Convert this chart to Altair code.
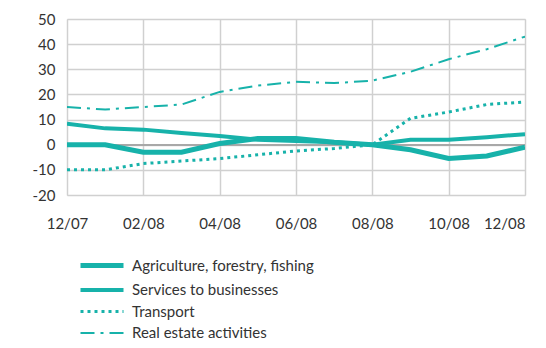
import altair as alt
import pandas as pd

months = list(range(13))
tick_values = [0, 2, 4, 6, 8, 10, 12]
tick_labels = ["12/07", "02/08", "04/08", "06/08", "08/08", "10/08", "12/08"]
y_ticks = [-20, -10, 0, 10, 20, 30, 40, 50]

series_names = ["Agriculture, forestry, fishing", "Services to businesses",
                "Transport", "Real estate activities"]
agriculture = [0, 0, -3, -3, 0.5, 2.5, 2.5, 1, 0, -2, -5.5, -4.5, -1]
services = [8.3, 6.5, 6, 4.7, 3.5, 2, 1.5, 1, 0, 2, 2, 3, 4.2]
transport = [-10, -10, -7.5, -6.5, -5.5, -4, -2.5, -1.5, 0, 10.5, 13, 16, 17]
real_estate = [15, 14, 15, 16, 21, 23.5, 25, 24.5, 25.5, 29, 34, 38, 43]

values = [agriculture, services, transport, real_estate]
rows = []
for name, vals in zip(series_names, values):
    for m, v in zip(months, vals):
        rows.append({"series": name, "sw": name, "month": m, "value": v})
df = pd.DataFrame(rows)

teal = "#17b2aa"
font = "Lato"

label_expr = "[" + ",".join(f"'{t}'" for t in tick_labels) + "][datum.value/2]"

xscale = alt.Scale(domain=[0, 12], nice=False)
yscale = alt.Scale(domain=[-20, 50], nice=False)
y_axis = alt.Axis(values=y_ticks, title=None, labelExpr="'' + datum.value",
                  labelPadding=12)

lines = alt.Chart(df).mark_line(clip=True).encode(
    x=alt.X("month:Q", scale=xscale,
            axis=alt.Axis(values=tick_values, labelExpr=label_expr, title=None,
                          labelFlush=False, labelPadding=21,
                          labelAlign={"condition": {"test": "datum.value == 12",
                                                    "value": "right"},
                                      "value": "center"})),
    y=alt.Y("value:Q", scale=yscale, axis=y_axis),
    color=alt.Color("series:N", scale=alt.Scale(domain=series_names, range=[teal] * 4),
                    title=None,
                    legend=alt.Legend(orient="none", legendX=11, legendY=234,
                                      symbolType="M-1,0H3.3", symbolSize=400,
                                      symbolStrokeWidth=2, labelFontSize=15,
                                      labelFont=font, labelColor="#333333",
                                      labelOffset=29, rowPadding=2, labelLimit=400,
                                      padding=0, title=None)),
    strokeDash=alt.StrokeDash("series:N",
                              scale=alt.Scale(domain=series_names,
                                              range=[[1000, 0], [1000, 0], [3, 4],
                                                     [14, 6, 3, 6]]),
                              title=None),
    strokeWidth=alt.StrokeWidth("sw:N",
                                scale=alt.Scale(domain=series_names, range=[5, 2, 2.5, 2.5]),
                                legend=None),
    order="month:Q",
)

zero = alt.Chart(df).mark_rule(color="#a8a8a8", strokeWidth=1.5).encode(
    y=alt.datum(0, scale=yscale, axis=y_axis))

chart = alt.layer(zero, lines).properties(
    width=458, height=176,
    autosize=alt.AutoSizeParams(type="none"),
    padding={"left": 59, "top": 11, "right": 13, "bottom": 145},
).configure_view(stroke="#b5b5b5", strokeWidth=2.5).configure(
    background="white"
).configure_axis(
    grid=True, ticks=False, domain=False,
    labelOverlap=False,
    labelFontSize=15, labelFont=font, labelColor="#333333",
    gridColor="#d0d0d0", gridWidth=1.5,
)

chart.save("out.html", embed_options={"renderer": "svg", "actions": False})
